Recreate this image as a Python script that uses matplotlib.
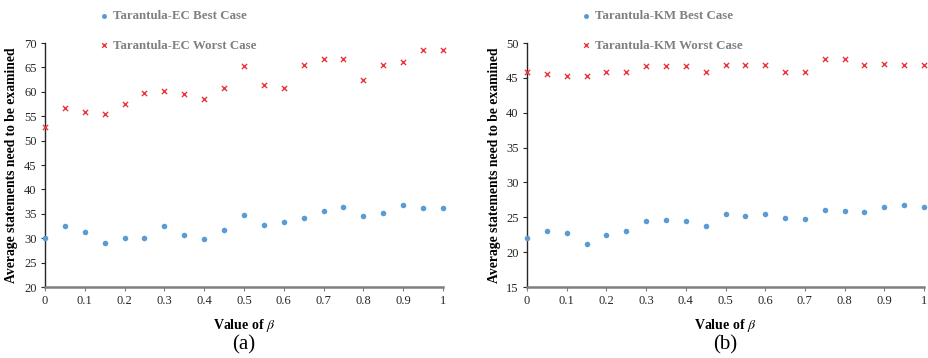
import matplotlib
matplotlib.use("Agg")
import matplotlib.pyplot as plt
import numpy as np

plt.rcParams['font.family'] = ['Liberation Serif', 'DejaVu Serif']
plt.rcParams['mathtext.fontset'] = 'stix'

beta = np.round(np.arange(0, 1.0001, 0.05), 2)

ec_best = [30.1, 32.5, 31.3, 29.1, 30.1, 30.0, 32.5, 30.6, 29.8, 31.6, 34.7,
           32.7, 33.4, 34.1, 35.6, 36.4, 34.5, 35.2, 36.9, 36.1, 36.2]
ec_worst = [52.8, 56.7, 55.8, 55.5, 57.5, 59.8, 60.2, 59.5, 58.5, 60.8, 65.3,
            61.4, 60.8, 65.4, 66.7, 66.8, 62.5, 65.4, 66.2, 68.6, 68.6]

km_best = [22.1, 23.0, 22.8, 21.1, 22.4, 23.1, 24.4, 24.6, 24.4, 23.7, 25.4,
           25.2, 25.4, 24.9, 24.7, 26.1, 25.9, 25.8, 26.5, 26.7, 26.5]
km_worst = [45.8, 45.5, 45.3, 45.3, 45.9, 45.9, 46.7, 46.7, 46.7, 45.8, 46.9,
            46.9, 46.9, 45.8, 45.9, 47.7, 47.7, 46.8, 47.0, 46.9, 46.9]

xticks = [0, 0.1, 0.2, 0.3, 0.4, 0.5, 0.6, 0.7, 0.8, 0.9, 1]
xticklabels = ['0', '0.1', '0.2', '0.3', '0.4', '0.5', '0.6', '0.7', '0.8', '0.9', '1']

blue = '#5b9bd5'
red = '#e8383d'

fig = plt.figure(figsize=(9.29, 3.58), dpi=100)
ax1 = fig.add_axes([45/929, 1-287/358, 398/929, 244/358])
ax2 = fig.add_axes([527/929, 1-287/358, 397/929, 244/358])

panels = [
    (ax1, ec_best, ec_worst, 'Tarantula-EC', (20, 70), '(a)'),
    (ax2, km_best, km_worst, 'Tarantula-KM', (15, 50), '(b)'),
]

for ax, best, worst, name, ylim, tag in panels:
    ax.scatter(beta, best, s=16, color=blue, marker='o', linewidths=0,
               label=name + ' Best Case', clip_on=False, zorder=3)
    ax.scatter(beta, worst, s=14, color=red, marker='x', linewidths=1.0,
               label=name + ' Worst Case', clip_on=False, zorder=3)
    ax.set_xlim(0, 1)
    ax.set_ylim(*ylim)
    ax.set_yticks(np.arange(ylim[0], ylim[1] + 1, 5))
    ax.set_xticks(xticks)
    ax.set_xticklabels(xticklabels)
    for s in ['top', 'right']:
        ax.spines[s].set_visible(False)
    ax.spines['bottom'].set_color('#7f7f7f')
    ax.spines['bottom'].set_linewidth(1.8)
    ax.spines['left'].set_color('#262626')
    ax.spines['left'].set_linewidth(1.0)
    ax.tick_params(axis='both', labelsize=9, length=3, width=0.8,
                   direction='out', colors='#262626', pad=3)
    ax.tick_params(axis='x', color='#7f7f7f')
    ax.set_ylabel('Average statements need to be examined', fontsize=9.8,
                  fontweight='bold', labelpad=4)
    ax.set_xlabel(r'Value of $\beta$', fontsize=10, fontweight='bold', labelpad=7)
    ax.text(0.5, -0.238, tag, transform=ax.transAxes, ha='center', va='center',
            fontsize=15)
    ax.legend(loc='upper left', bbox_to_anchor=(0.115, 1.155), frameon=False,
              prop={'weight': 'bold', 'size': 9.3}, labelcolor='#808080',
              handletextpad=0.1, labelspacing=1.35, markerscale=0.9,
              handlelength=1.2, borderaxespad=0)

fig.savefig('out.png', dpi=100)
